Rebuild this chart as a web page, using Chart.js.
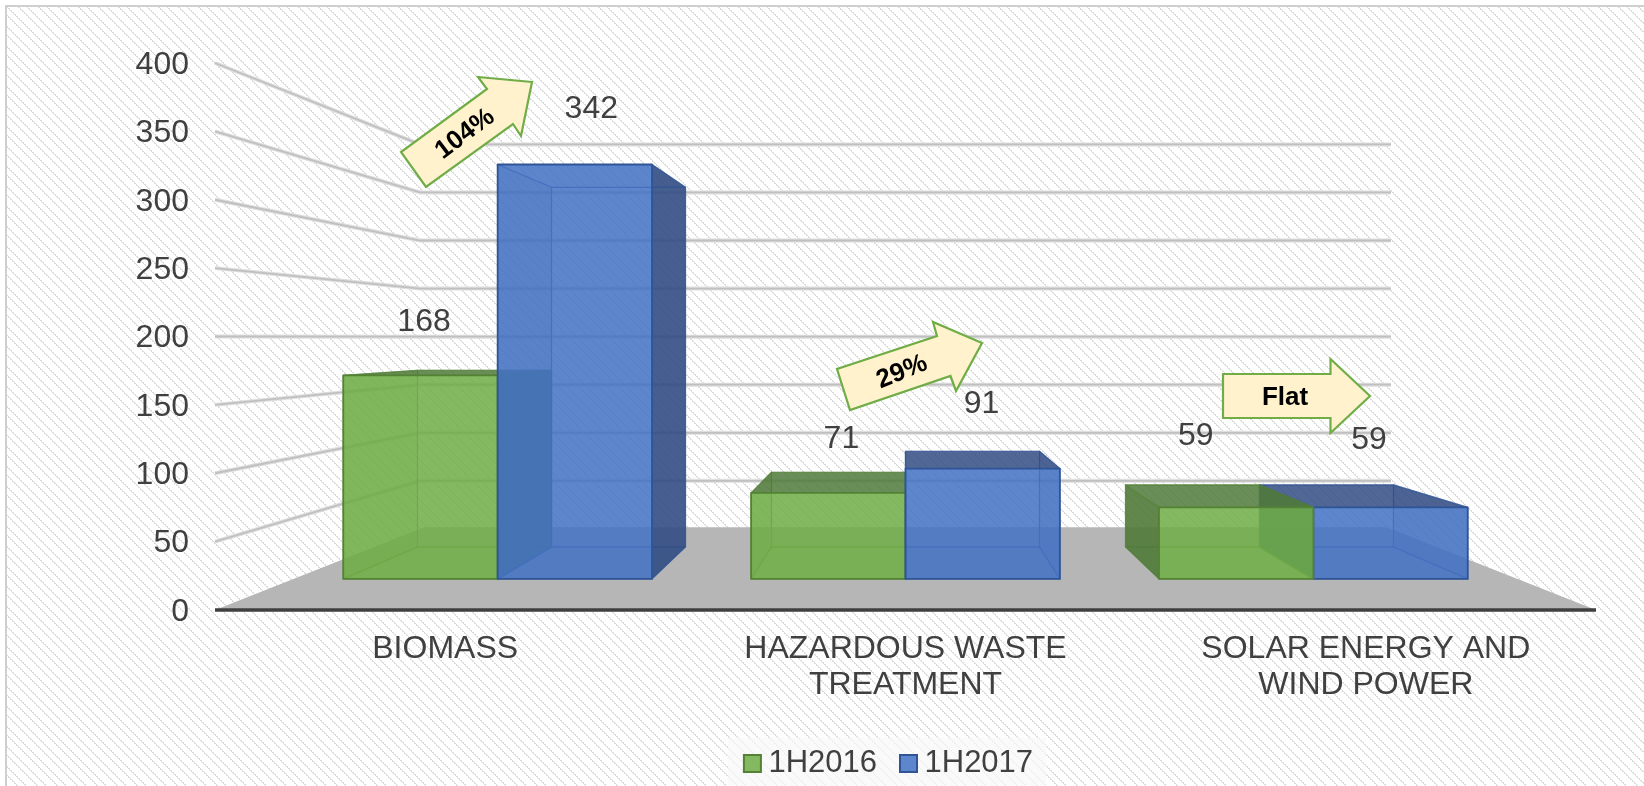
<!DOCTYPE html>
<html><head><meta charset="utf-8">
<style>html,body{margin:0;padding:0;background:#fff;overflow:hidden}#w{width:1644px;height:786px;position:relative}</style>
<script src="https://cdn.jsdelivr.net/npm/chart.js@4"></script>
</head><body><div id="w"><canvas id="c" width="1644" height="786"></canvas></div>
<script>
const categories = [['BIOMASS'], ['HAZARDOUS WASTE', 'TREATMENT'], ['SOLAR ENERGY AND', 'WIND POWER']];
const series2016 = [168, 71, 59];
const series2017 = [342, 91, 59];
const seriesNames = ['1H2016', '1H2017'];
const yTicksMax = 400, yTicksStep = 50;

// label nudges relative to each bar's scale position
const labelOffsets2016 = [[66, -58], [23, -74], [-83, -93]];
const labelOffsets2017 = [[59, -33], [-11, -81], [-84, -89]];

// perspective of the 3D box
const VIEW = {horizon: 337, sFront: 0.886, sBack: 0.769, sWallBack: 0.703, sFloorBack: 0.697};

const callouts = [
  {text: '104%', pts: [[532,82],[478,77],[487,89],[401,152],[426,187],[513,124],[521,136]], tx: 465, ty: 134, a: -37, size: 26},
  {text: '29%',  pts: [[982,343],[933,322],[937,336],[837,369],[850,410],[950.5,376],[956,391]], tx: 902, ty: 372, a: -22, size: 26},
  {text: 'Flat', pts: [[1370,396],[1330.5,359],[1330.5,374],[1223,374],[1223,418],[1330.5,418],[1330.5,433]], tx: 1285, ty: 398, a: 0, size: 26}
];

const FONT = '"Liberation Sans", Arial, sans-serif';
const TEXT = '#404040';

function makeHatch(ctx) {
  const n = 20, t = document.createElement('canvas'); t.width = n; t.height = n;
  const g = t.getContext('2d');
  g.fillStyle = '#fff'; g.fillRect(0, 0, n, n);
  g.fillStyle = '#dcdcdc';
  for (let x = 0; x < n; x++) for (let y = 0; y < n; y++) {
    if (((x - y + n) % 10) < 3 && ((x >> 1) + (y >> 1)) % 2 === 0) g.fillRect(x, y, 1, 1);
  }
  return ctx.createPattern(t, 'repeat');
}
function poly(ctx, pts) {
  ctx.beginPath(); pts.forEach((p, i) => i ? ctx.lineTo(p[0], p[1]) : ctx.moveTo(p[0], p[1])); ctx.closePath();
}

const scene3d = {
  id: 'scene3d',
  afterLayout(chart) {
    const lg = chart.legend;
    lg.left -= 13; lg.right -= 13; lg.top += 3; lg.bottom += 3;
  },
  beforeDraw(chart) {
    const {ctx, width, height} = chart;
    ctx.save();
    ctx.fillStyle = '#fff'; ctx.fillRect(0, 0, width, height);
    ctx.fillStyle = makeHatch(ctx); ctx.fillRect(7, 7, width - 7, height - 7);
    ctx.fillStyle = '#cfcfcf';
    ctx.fillRect(5, 5, width - 5, 2); ctx.fillRect(5, 5, 2, height - 5);
    // soft legend plate
    ctx.fillStyle = 'rgba(248,248,248,0.6)';
    ctx.shadowColor = 'rgba(248,248,248,0.6)'; ctx.shadowBlur = 12;
    ctx.fillRect(728, 738, 318, 48);
    ctx.restore();
  },
  beforeDatasetsDraw(chart) {
    const {ctx, chartArea: a, scales: {y}} = chart;
    const cx = (a.left + a.right) / 2, hz = VIEW.horizon, sb = VIEW.sWallBack, sfl = VIEW.sFloorBack;
    const pr = (px, py, s) => [cx + (px - cx) * s, hz + (py - hz) * s];
    ctx.save();
    // floor
    const fy = y.getPixelForValue(0);
    poly(ctx, [[a.left, fy], pr(a.left, fy, sfl), pr(a.right, fy, sfl), [a.right, fy]]);
    ctx.fillStyle = '#b6b6b6'; ctx.fill();
    // gridlines: left wall + back wall
    y.ticks.forEach(t => {
      if (t.value === 0) return;
      const py = y.getPixelForValue(t.value);
      const path = () => { ctx.beginPath(); ctx.moveTo(a.left, py);
        const b = pr(a.left, py, sb), c = pr(a.right, py, sb);
        ctx.lineTo(b[0], b[1]); ctx.lineTo(c[0], c[1]); };
      path(); ctx.strokeStyle = '#dedede'; ctx.lineWidth = 4; ctx.stroke();
      path(); ctx.strokeStyle = '#c0c0c0'; ctx.lineWidth = 1.8; ctx.stroke();
    });
    // front edge
    ctx.beginPath(); ctx.moveTo(a.left, fy); ctx.lineTo(a.right, fy);
    ctx.strokeStyle = '#3f3f3f'; ctx.lineWidth = 3.4; ctx.stroke();
    ctx.restore();
  },
  beforeDatasetDraw() { return false; },
  afterDatasetsDraw(chart) {
    const {ctx, chartArea: a} = chart;
    const cx = (a.left + a.right) / 2, hz = VIEW.horizon, sf = VIEW.sFront, sk = VIEW.sBack;
    const pr = (px, py, s) => [cx + (px - cx) * s, hz + (py - hz) * s];
    const shade = [ {rgb: [112,173,71], dark: [80,122,58], line: '#548235'},
                    {rgb: [68,114,196], dark: [50,78,132], line: '#2f5597'} ];
    const bars = [];
    chart.data.datasets.forEach((ds, di) => chart.getDatasetMeta(di).data.forEach((el) => {
      bars.push({el, di, dist: Math.abs(el.x - cx)});
    }));
    bars.sort((p, q) => q.dist - p.dist);
    ctx.save();
    ctx.lineJoin = 'round';
    bars.forEach(({el, di}) => {
      const st = shade[di], L = el.x - el.width / 2, R = el.x + el.width / 2, T = el.y, B = el.base;
      const fTL = pr(L,T,sf), fTR = pr(R,T,sf), fBL = pr(L,B,sf), fBR = pr(R,B,sf);
      const bTL = pr(L,T,sk), bTR = pr(R,T,sk), bBL = pr(L,B,sk), bBR = pr(R,B,sk);
      const rgba = (c, al) => `rgba(${c[0]},${c[1]},${c[2]},${al})`;
      const face = (pts, fill) => { poly(ctx, pts); ctx.fillStyle = fill; ctx.fill();
        ctx.strokeStyle = st.line; ctx.globalAlpha = 0.6; ctx.lineWidth = 1.2; ctx.stroke(); ctx.globalAlpha = 1; };
      face([bTL,bTR,bBR,bBL], 'rgba(0,0,0,0)');
      face([fBL,fBR,bBR,bBL], rgba(st.rgb, 0.12));
      const leftOuter = bTL[0] < fTL[0], rightOuter = bTR[0] > fTR[0];
      face([fTL,bTL,bBL,fBL], leftOuter ? rgba(st.dark, 0.9) : rgba(st.dark, 0.18));
      face([fTR,bTR,bBR,fBR], rightOuter ? rgba(st.dark, 0.9) : rgba(st.dark, 0.18));
      const topHidden = bTL[1] > fTL[1];
      face([fTL,fTR,bTR,bTL], rgba(st.dark, topHidden ? 0.03 : 0.85));
      poly(ctx, [fTL,fTR,fBR,fBL]);
      ctx.fillStyle = rgba(st.rgb, 0.86); ctx.fill();
      ctx.strokeStyle = st.line; ctx.lineWidth = 1.8; ctx.stroke();
    });
    // data labels
    ctx.font = '32px ' + FONT; ctx.fillStyle = TEXT; ctx.textAlign = 'center'; ctx.textBaseline = 'middle';
    [labelOffsets2016, labelOffsets2017].forEach((off, di) => {
      chart.getDatasetMeta(di).data.forEach((el, i) => {
        ctx.fillText(String(chart.data.datasets[di].data[i]), el.x + off[i][0], el.y + off[i][1]);
      });
    });
    // callout arrows
    callouts.forEach(c => {
      poly(ctx, c.pts); ctx.fillStyle = '#fff2cc'; ctx.fill();
      ctx.strokeStyle = '#70ad47'; ctx.lineWidth = 2.2; ctx.lineJoin = 'miter'; ctx.stroke();
      ctx.save(); ctx.translate(c.tx, c.ty); ctx.rotate(c.a * Math.PI / 180);
      ctx.font = 'bold ' + c.size + 'px ' + FONT; ctx.fillStyle = '#000';
      ctx.fillText(c.text, 0, 0); ctx.restore();
    });
    ctx.restore();
  }
};

new Chart(document.getElementById('c'), {
  type: 'bar',
  data: {
    labels: categories,
    datasets: [
      {label: seriesNames[0], data: series2016, backgroundColor: 'rgba(112,173,71,0.86)', borderColor: '#548235', borderWidth: 2},
      {label: seriesNames[1], data: series2017, backgroundColor: 'rgba(68,114,196,0.86)', borderColor: '#2f5597', borderWidth: 2}
    ]
  },
  options: {
    responsive: false, animation: false, devicePixelRatio: 1,
    layout: {padding: {left: 0, right: 48, top: 63, bottom: 0}},
    datasets: {bar: {categoryPercentage: 0.757, barPercentage: 1}},
    plugins: {
      tooltip: {enabled: false},
      legend: {position: 'bottom', fullSize: false,
        labels: {usePointStyle: true, pointStyle: 'rect', boxWidth: 1, boxHeight: 17, padding: 31, color: TEXT, font: {family: FONT, size: 31}}}
    },
    scales: {
      x: {
        grid: {display: false, drawTicks: false}, border: {display: false},
        ticks: {color: TEXT, font: {family: FONT, size: 32, lineHeight: 1.12}, padding: 21, maxRotation: 0, autoSkip: false},
        afterFit(s) { s.height = 104; }
      },
      y: {
        min: 0, max: yTicksMax,
        grid: {display: false, drawTicks: false}, border: {display: false},
        ticks: {stepSize: yTicksStep, color: TEXT, font: {family: FONT, size: 32}, padding: 26, labelOffset: 2},
        afterFit(s) { s.width = 215; }
      }
    }
  },
  plugins: [scene3d]
});
</script></body></html>
